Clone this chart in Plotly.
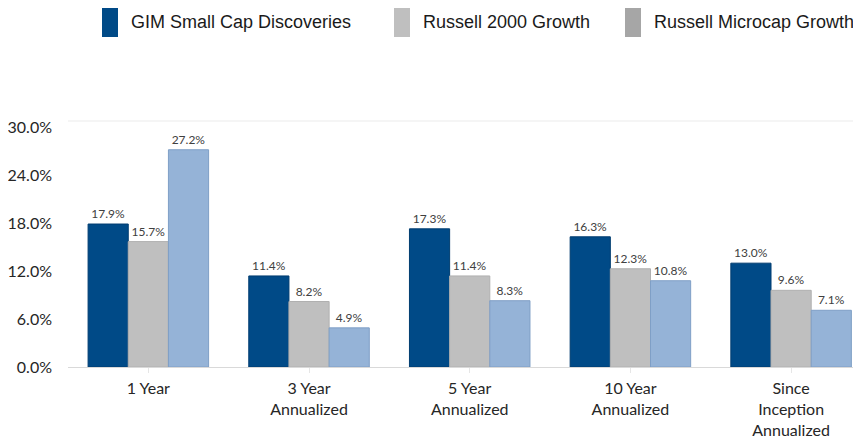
import plotly.graph_objects as go

categories = ["1 Year", "3 Year<br>Annualized", "5 Year<br>Annualized",
              "10 Year<br>Annualized", "Since<br>Inception<br>Annualized"]
series_names = ["GIM Small Cap Discoveries", "Russell 2000 Growth", "Russell Microcap Growth"]
gim = [17.9, 11.4, 17.3, 16.3, 13.0]
r2000g = [15.7, 8.2, 11.4, 12.3, 9.6]
microg = [27.2, 4.9, 8.3, 10.8, 7.1]
y_ticks = [0, 6, 12, 18, 24, 30]

bar_colors = ["#004A87", "#BFBFBF", "#95B3D7"]
line_colors = ["#003D70", "#B0B0B0", "#7F9FC6"]
legend_colors = ["#004A87", "#BFBFBF", "#A6A6A6"]

# page has an 8px body margin; figure sized to fill the rest of the window
OFF = 8
L, R, T, B, W, H = 68 - OFF, 0, 121 - OFF, 72, 861 - OFF, 439 - OFF
PW, PH = W - L - R, H - T - B

fig = go.Figure()
for name, vals, c, lc in zip(series_names, [gim, r2000g, microg], bar_colors, line_colors):
    fig.add_trace(go.Bar(
        x=categories, y=vals, name=name,
        marker=dict(color=c, line=dict(color=lc, width=1)),
        texttemplate="%{y:.1f}%", textposition="outside",
        textfont=dict(family="Lato", size=12, color="#404040"),
        cliponaxis=False, showlegend=False,
    ))

fig.update_layout(
    width=W, height=H,
    margin=dict(l=L, r=R, t=T, b=B),
    paper_bgcolor="white", plot_bgcolor="white",
    barmode="group", bargap=0.25, bargroupgap=0,
    font=dict(family="Lato", color="#262626"),
    xaxis=dict(
        range=[-0.5, 4.435], showgrid=False, automargin=False,
        showline=True, linecolor="#D9D9D9", linewidth=1,
        ticks="outside", ticklen=5, tickcolor="#E6E6E6",
        tickfont=dict(family="Lato", size=16, color="#262626"),
        ticklabelstandoff=2,
    ),
    yaxis=dict(
        range=[0, 30.8], tickvals=y_ticks, automargin=False,
        ticktext=[f"{v:.1f}%" for v in y_ticks],
        showgrid=False, zeroline=False, showline=False,
        tickfont=dict(family="Lato", size=16, color="#262626"),
        ticklabelstandoff=15,
    ),
)

# top border line of plot area
fig.add_shape(type="line", xref="paper", yref="paper", x0=0, x1=1, y0=1, y1=1,
              line=dict(color="#EBEBEB", width=1))

# custom legend (tall swatches); positions given in window pixels
leg_x = [102, 394, 625]
for lx, name, c in zip(leg_x, series_names, legend_colors):
    fx = lx - OFF
    fig.add_shape(type="rect", xref="paper", yref="paper",
                  x0=(fx - L) / PW, x1=(fx + 16 - L) / PW,
                  y0=1 + (T - (37 - OFF)) / PH, y1=1 + (T - 0) / PH,
                  line=dict(width=0), fillcolor=c)
    fig.add_annotation(xref="paper", yref="paper",
                       x=(fx + 27 - L) / PW, y=1 + (T - (22 - OFF)) / PH,
                       text=name, showarrow=False, xanchor="left", yanchor="middle",
                       font=dict(family="Liberation Sans", size=18, color="#1A1A1A"))

fig.write_html("out.html")
